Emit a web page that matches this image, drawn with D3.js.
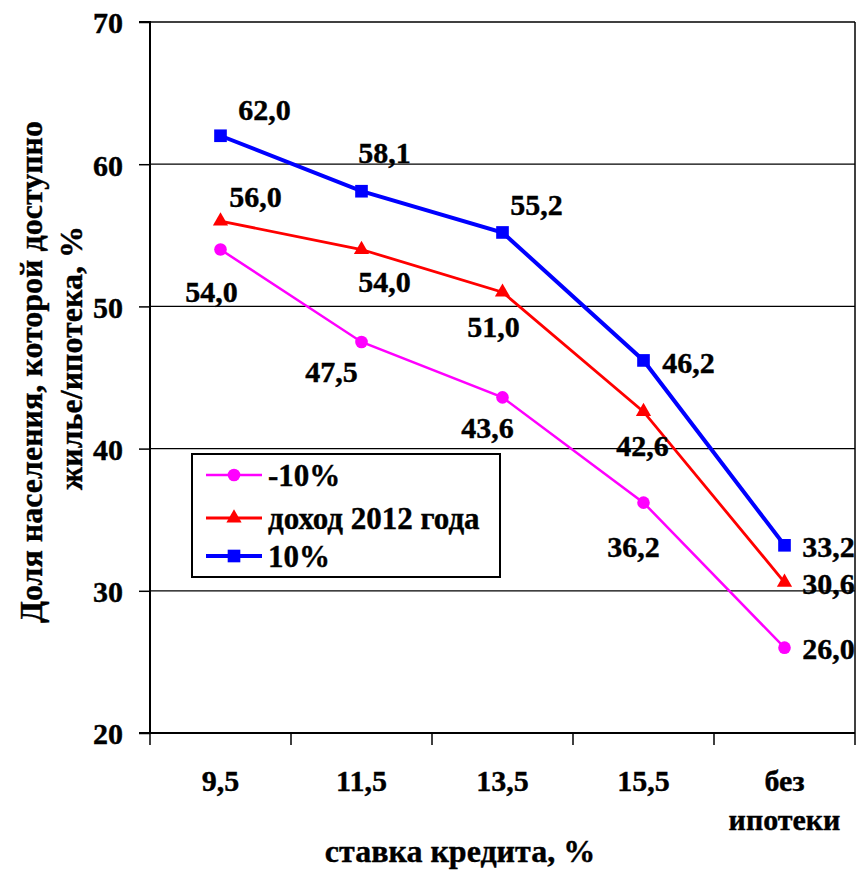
<!DOCTYPE html>
<html lang="ru">
<head>
<meta charset="UTF-8">
<title>Доля населения</title>
<script src="https://cdn.jsdelivr.net/npm/d3@7"></script>
<style>
  body { margin: 0; background: #fff; }
  text { font-family: "Liberation Serif", "Times New Roman", serif; font-weight: bold; fill: #000; stroke: #000; stroke-width: 0.4px; }
</style>
</head>
<body>
<div id="chart"></div>
<script>
const categories = ["9,5", "11,5", "13,5", "15,5", "без\nипотеки"];
const seriesNames = ["-10%", "доход 2012 года", "10%"];
const minus10 = [54.0, 47.5, 43.6, 36.2, 26.0];
const income2012 = [56.0, 54.0, 51.0, 42.6, 30.6];
const plus10 = [62.0, 58.1, 55.2, 46.2, 33.2];
const yTicks = [20, 30, 40, 50, 60, 70];

// label offsets from each point: [dx to text centre, dy to baseline]
const labelOffsets = [
  [[-9, 52], [-30, 40], [-15, 41], [-10, 54], [44, 11]],
  [[35, -14], [23, 42], [-9, 45], [-1, 44], [44, 12]],
  [[44, -16], [23, -28], [34, -17], [45, 13], [44, 12]]
];

const w = 858, h = 871;
const pLeft = 150, pRight = 855, pTop = 22, pBottom = 733;

const svg = d3.select("#chart").append("svg")
  .attr("width", w).attr("height", h);

const x = d3.scaleBand().domain(d3.range(categories.length)).range([pLeft, pRight]);
const y = d3.scaleLinear().domain([20, 70]).range([pBottom, pTop]);

// gridlines
svg.append("g").selectAll("line")
  .data(yTicks.filter(d => d > 20))
  .enter().append("line")
  .attr("x1", pLeft).attr("x2", pRight)
  .attr("y1", d => y(d)).attr("y2", d => y(d))
  .attr("stroke", "#000").attr("stroke-width", 1.3);

// right border
svg.append("line")
  .attr("x1", pRight).attr("x2", pRight).attr("y1", pTop).attr("y2", pBottom)
  .attr("stroke", "#000").attr("stroke-width", 1.5);

// y axis
const yAxis = svg.append("g")
  .attr("transform", `translate(${pLeft},0)`)
  .call(d3.axisLeft(y).tickValues(yTicks).tickSize(11).tickPadding(16));
yAxis.selectAll("path, line").attr("stroke", "#000").attr("stroke-width", 1.5);
yAxis.select(".domain").attr("d", `M-11,${pTop}H0V${pBottom}H-11`).attr("stroke-width", 2);
yAxis.selectAll("text").attr("font-size", 30).attr("font-family", null).attr("dy", "0.36em");

// x axis
const bounds = d3.range(categories.length + 1).map(i => pLeft + i * x.bandwidth());
const xg = svg.append("g");
xg.append("line")
  .attr("x1", pLeft).attr("x2", pRight).attr("y1", pBottom).attr("y2", pBottom)
  .attr("stroke", "#000").attr("stroke-width", 2.2);
xg.selectAll("line.tick").data(bounds).enter().append("line")
  .attr("class", "tick")
  .attr("x1", d => d).attr("x2", d => d)
  .attr("y1", pBottom).attr("y2", pBottom + 12)
  .attr("stroke", "#000").attr("stroke-width", 1.5);
categories.forEach((c, i) => {
  const t = xg.append("text")
    .attr("text-anchor", "middle")
    .attr("font-size", 30);
  c.split("\n").forEach((line, j) => {
    t.append("tspan").attr("x", x(i) + x.bandwidth() / 2)
      .attr("y", 791 + j * 39).text(line);
  });
});

// axis titles
svg.append("text")
  .attr("x", 460).attr("y", 862)
  .attr("text-anchor", "middle").attr("font-size", 32)
  .text("ставка кредита, %");

const yt = svg.append("text")
  .attr("transform", "translate(0,372) rotate(-90)")
  .attr("text-anchor", "middle").attr("font-size", 32);
yt.append("tspan").attr("x", 0).attr("y", 42).text("Доля населения, которой доступно");
yt.append("tspan").attr("x", 14).attr("y", 82).text("жилье/ипотека, %");

// series
const series = [
  { name: seriesNames[0], values: minus10, color: "#ff00ff", width: 2.5, marker: d3.symbolCircle, size: 125 },
  { name: seriesNames[1], values: income2012, color: "#ff0000", width: 2.8, marker: d3.symbolTriangle, size: 100 },
  { name: seriesNames[2], values: plus10, color: "#0000ff", width: 4, marker: d3.symbolSquare, size: 160 }
];
const cx = i => x(i) + x.bandwidth() / 2;
const line = d3.line().x((d, i) => cx(i)).y(d => y(d));

series.forEach(s => {
  const g = svg.append("g");
  g.append("path").datum(s.values)
    .attr("d", line).attr("fill", "none")
    .attr("stroke", s.color).attr("stroke-width", s.width);
  g.selectAll("path.m").data(s.values).enter().append("path")
    .attr("class", "m")
    .attr("d", d3.symbol().type(s.marker).size(s.size))
    .attr("transform", (d, i) => `translate(${cx(i)},${y(d)})`)
    .attr("fill", s.color);
});

series.forEach((s, si) => {
  svg.append("g").selectAll("text").data(s.values).enter().append("text")
    .attr("x", (d, i) => cx(i) + labelOffsets[si][i][0])
    .attr("y", (d, i) => y(d) + labelOffsets[si][i][1])
    .attr("text-anchor", "middle").attr("font-size", 30)
    .text(d => d.toFixed(1).replace(".", ","));
});

// legend
const lg = svg.append("g");
lg.append("rect")
  .attr("x", 192).attr("y", 454).attr("width", 308).attr("height", 123)
  .attr("fill", "#fff").attr("stroke", "#000").attr("stroke-width", 2);
const legendY = [475, 518, 556];
series.forEach((s, i) => {
  const ly = legendY[i];
  lg.append("line").attr("x1", 206).attr("x2", 262).attr("y1", ly).attr("y2", ly)
    .attr("stroke", s.color).attr("stroke-width", s.width);
  lg.append("path").attr("d", d3.symbol().type(s.marker).size(s.size))
    .attr("transform", `translate(234,${ly})`).attr("fill", s.color);
  lg.append("text").attr("x", 268).attr("y", ly + 11)
    .attr("font-size", 31).text(s.name);
});
</script>
</body>
</html>
